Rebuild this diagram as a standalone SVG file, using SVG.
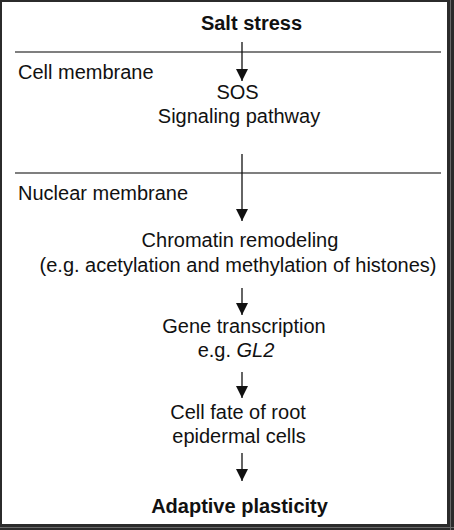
<svg xmlns="http://www.w3.org/2000/svg" width="454" height="530" viewBox="0 0 454 530">
  <defs>
    <marker id="arrow" viewBox="0 0 12 12" refX="12" refY="6" markerWidth="12" markerHeight="12" markerUnits="userSpaceOnUse" orient="auto">
      <path d="M0,0 L12,6 L0,12 Z" fill="#111"/>
    </marker>
  </defs>
  <style>
    text { font-family: "Liberation Sans", Arial, sans-serif; font-size: 20px; fill: #111; }
    .c { text-anchor: middle; }
    .b { font-weight: bold; }
    .i { font-style: italic; }
    .sep { stroke: #555; stroke-width: 1.5; }
    .conn { stroke: #111; stroke-width: 1.3; fill: none; marker-end: url(#arrow); }
  </style>
  <g id="frame">
    <rect x="0" y="0" width="454" height="530" fill="#2b2b2b"/>
    <rect x="2" y="2" width="445" height="522" fill="#ffffff"/>
    <line x1="450.5" y1="0" x2="450.5" y2="530" stroke="#6a6a6a" stroke-width="1"/>
    <line x1="0" y1="527.5" x2="454" y2="527.5" stroke="#6a6a6a" stroke-width="1"/>
  </g>
  <g id="membranes">
    <line class="sep" x1="15" y1="52" x2="441" y2="52"/>
    <line class="sep" x1="15" y1="173" x2="441" y2="173"/>
  </g>
  <g id="connectors">
    <line class="conn" x1="242" y1="42" x2="242" y2="81"/>
    <line class="conn" x1="242" y1="154" x2="242" y2="221"/>
    <line class="conn" x1="242" y1="288" x2="242" y2="315"/>
    <line class="conn" x1="242" y1="372" x2="242" y2="398"/>
    <line class="conn" x1="242" y1="453" x2="242" y2="481"/>
  </g>
  <g id="salt-stress"><text class="c b" x="251.5" y="30">Salt stress</text></g>
  <g id="cell-membrane"><text x="18" y="79">Cell membrane</text></g>
  <g id="sos">
    <text class="c" x="237.5" y="99">SOS</text>
    <text class="c" x="239" y="123">Signaling pathway</text>
  </g>
  <g id="nuclear-membrane"><text x="18" y="200">Nuclear membrane</text></g>
  <g id="chromatin">
    <text class="c" x="240" y="247">Chromatin remodeling</text>
    <text class="c" x="238" y="272">(e.g. acetylation and methylation of histones)</text>
  </g>
  <g id="gene-transcription">
    <text class="c" x="244" y="333">Gene transcription</text>
    <text class="c" x="236" y="357">e.g. <tspan class="i">GL2</tspan></text>
  </g>
  <g id="cell-fate">
    <text class="c" x="238" y="419">Cell fate of root</text>
    <text class="c" x="239" y="443">epidermal cells</text>
  </g>
  <g id="adaptive-plasticity"><text class="c b" x="239.5" y="513">Adaptive plasticity</text></g>
</svg>
